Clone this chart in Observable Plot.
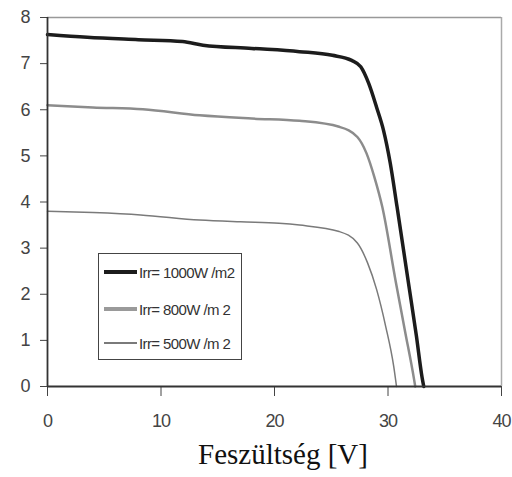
<!DOCTYPE html>
<html><head><meta charset="utf-8">
<script src="https://cdn.jsdelivr.net/npm/d3@7"></script>
<script src="https://cdn.jsdelivr.net/npm/@observablehq/plot@0.6"></script>
<style>
body{margin:0;background:#fff;}
#wrap{position:relative;width:512px;height:477px;}
#xlabel{position:absolute;left:0;width:566px;top:438px;text-align:center;font-family:"Liberation Serif","DejaVu Serif",serif;font-size:29px;color:#111;}
#legend{position:absolute;left:98px;top:253px;width:142px;height:105px;border:1.5px solid #444;background:#fff;font-family:"Liberation Sans",Arial,sans-serif;font-size:15px;letter-spacing:-0.6px;color:#333;}
.row{position:absolute;left:5px;display:flex;align-items:center;height:16px;white-space:nowrap;}
.sw{width:33px;margin-right:2px;}
</style></head>
<body>
<div id="wrap"><div id="chart"></div><div id="legend"></div><div id="xlabel">Feszültség [V]</div></div>
<script>
const series = ["Irr= 1000W /m2", "Irr= 800W /m 2", "Irr= 500W /m 2"];
const v1000 = [0, 3.5, 8, 11.9, 13.7, 18, 22.2, 25.1, 26.8, 27.6, 28.3, 29.0, 29.6, 30.2, 30.8, 31.8, 32.5, 33.0, 33.15];
const i1000 = [7.63, 7.57, 7.52, 7.48, 7.40, 7.33, 7.26, 7.18, 7.07, 6.93, 6.57, 6.05, 5.56, 4.84, 3.89, 2.25, 1.1, 0.2, 0];
const v800 = [0, 4, 8.4, 13.4, 18, 22.2, 25.7, 27.3, 28.1, 28.8, 29.5, 30.7, 31.5, 32.3, 32.4];
const i800 = [6.10, 6.05, 6.01, 5.88, 5.81, 5.76, 5.63, 5.41, 5.06, 4.54, 3.89, 2.25, 1.2, 0.15, 0];
const v500 = [0, 4, 8.2, 13.4, 17, 20.4, 22.2, 25.7, 27.3, 28.2, 29.0, 29.8, 30.5, 30.75];
const i500 = [3.80, 3.77, 3.72, 3.61, 3.57, 3.54, 3.50, 3.36, 3.11, 2.68, 2.10, 1.30, 0.44, 0];
const xTicks = [0, 10, 20, 30, 40];
const yTicks = [0, 1, 2, 3, 4, 5, 6, 7, 8];

const colors = ["#1c1c1c", "#8c8c8c", "#7a7a7a"];
const widths = [3.5, 2.5, 1.5];
const toRows = (vs, is) => vs.map((v, k) => ({v, i: is[k]}));
const data = [toRows(v1000, i1000), toRows(v800, i800), toRows(v500, i500)];

const tickFont = '"Liberation Sans",Arial,sans-serif';
const chart = Plot.plot({
  width: 512, height: 440,
  marginLeft: 47, marginRight: 11, marginTop: 17, marginBottom: 54,
  x: {domain: [0, 40]},
  y: {domain: [0, 8]},
  marks: [
    Plot.ruleY([8], {stroke: "#999", strokeWidth: 1.5}),
    Plot.ruleX([40], {stroke: "#aaa", strokeWidth: 1.5}),
    ...data.map((d, k) => Plot.line(d, {x: "v", y: "i", stroke: colors[k], strokeWidth: widths[k], curve: "monotone-x"})),
    Plot.axisX({ticks: xTicks, tickSize: 10, tickPadding: 18, label: null, fontSize: 18, fontFamily: tickFont, color: "#444", stroke: "#444"}),
    Plot.axisY({ticks: yTicks, tickSize: 7, tickPadding: 11, label: null, fontSize: 18, fontFamily: tickFont, color: "#444", stroke: "#444"}),
    Plot.ruleY([0], {stroke: "#333", strokeWidth: 1.8}),
    Plot.ruleX([0], {stroke: "#333", strokeWidth: 1.8})
  ]
});
chart.style.letterSpacing = "-1px";
document.getElementById("chart").appendChild(chart);

const legend = document.getElementById("legend");
const tops = [10, 47, 81];
series.forEach((s, k) => {
  const row = document.createElement("div");
  row.className = "row";
  row.style.top = tops[k] + "px";
  const sw = document.createElement("div");
  sw.className = "sw";
  sw.style.height = (k === 0 ? 4 : k === 1 ? 3.5 : 1.5) + "px";
  sw.style.background = k === 1 ? "#9a9a9a" : colors[k];
  const t = document.createElement("span");
  t.textContent = s;
  row.appendChild(sw); row.appendChild(t);
  legend.appendChild(row);
});
</script>
</body></html>
